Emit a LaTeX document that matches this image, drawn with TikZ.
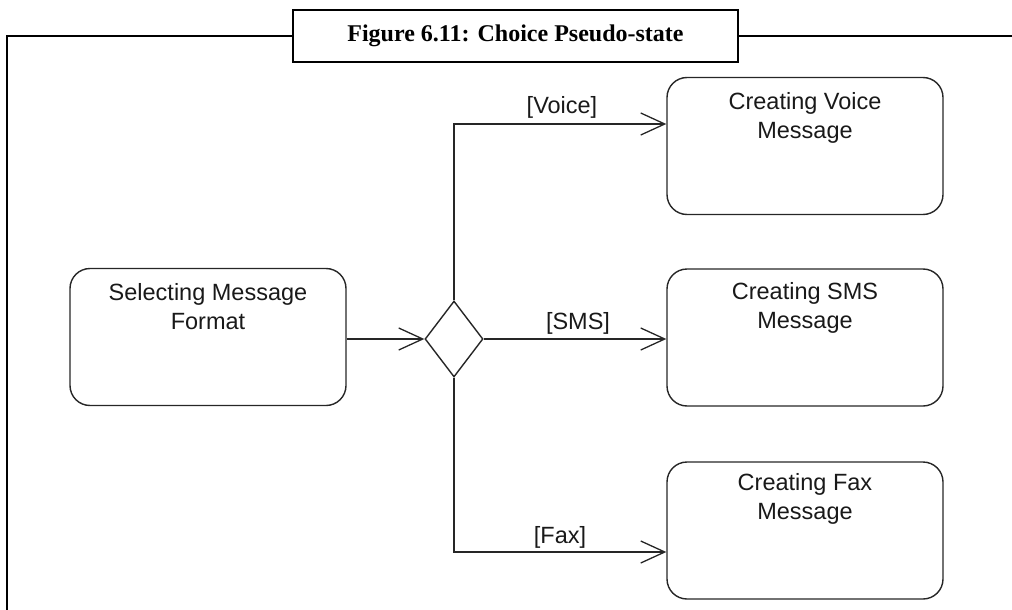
\documentclass[tikz,border=0pt]{standalone}
\usepackage{fontspec}
\newfontfamily\uifont{Liberation Sans}
\newfontfamily\titlefont{Liberation Serif}
\usetikzlibrary{shapes.geometric,arrows.meta}

\tikzset{
  statebox/.style={draw=black!85, line width=1.4pt, rounded corners=20pt,
    minimum width=276pt, minimum height=137pt, inner sep=0pt},
  statetext/.style={anchor=north, align=center, inner sep=0pt,
    font=\uifont\fontsize{23.5}{29}\selectfont, text=black!90},
  guard/.style={inner sep=0pt, font=\uifont\fontsize{23.5}{28}\selectfont, text=black!90},
  choice/.style={draw=black!85, line width=1.4pt, diamond, minimum width=58pt,
    minimum height=76pt, inner sep=0pt},
  flow/.style={draw=black!85, line width=1.4pt,
    -{Straight Barb[length=24pt,width=22pt,line width=1.3pt]}},
  titlebox/.style={draw=black, line width=2pt, minimum width=445pt,
    minimum height=52pt, inner sep=0pt,
    font=\titlefont\bfseries\fontsize{24}{28}\selectfont},
  frame/.style={draw=black, line width=2pt}
}

\begin{document}
\begin{tikzpicture}[x=1pt,y=-1pt]
  \useasboundingbox (0,0) rectangle (1012,610);

  % caption box and the frame that leaves it
  \node[titlebox] (title) at (515.5,36) {Figure 6.11: Choice Pseudo-state};
  \coordinate (frameTL) at (7,36);
  \coordinate (frameBL) at (7,611);
  \coordinate (frameTR) at (1013,36);
  \draw[frame] (title.west) -- (frameTL) -- (frameBL);
  \draw[frame] (title.east) -- (frameTR);

  % states
  \node[statebox] (select) at (208,337) {};
  \node[statebox] (voice)  at (805,146) {};
  \node[statebox] (sms)    at (805,337.5) {};
  \node[statebox] (fax)    at (805,530.5) {};

  \node[statetext, yshift=-15pt] (selectT) at (select.north) {Selecting Message\\Format};
  \node[statetext, yshift=-15pt] (voiceT)  at (voice.north)  {Creating Voice\\Message};
  \node[statetext, yshift=-14pt] (smsT)    at (sms.north)    {Creating SMS\\Message};
  \node[statetext, yshift=-12pt] (faxT)    at (fax.north)    {Creating Fax\\Message};

  % choice pseudo-state
  \node[choice] (dia) at (454,339) {};

  % transitions
  \draw[flow] (select.east |- dia.west) -- (dia.west);
  \draw[flow] (dia.north) |- ([yshift=22pt]voice.west);
  \draw[flow] (dia.east) -- (dia.east -| sms.west);
  \draw[flow] (dia.south) |- ([yshift=-21.5pt]fax.west);

  % guards
  \node[guard] (gVoice) at (562,107) {[Voice]};
  \node[guard] (gSms)   at (578,323) {[SMS]};
  \node[guard] (gFax)   at (560,537) {[Fax]};
\end{tikzpicture}
\end{document}
